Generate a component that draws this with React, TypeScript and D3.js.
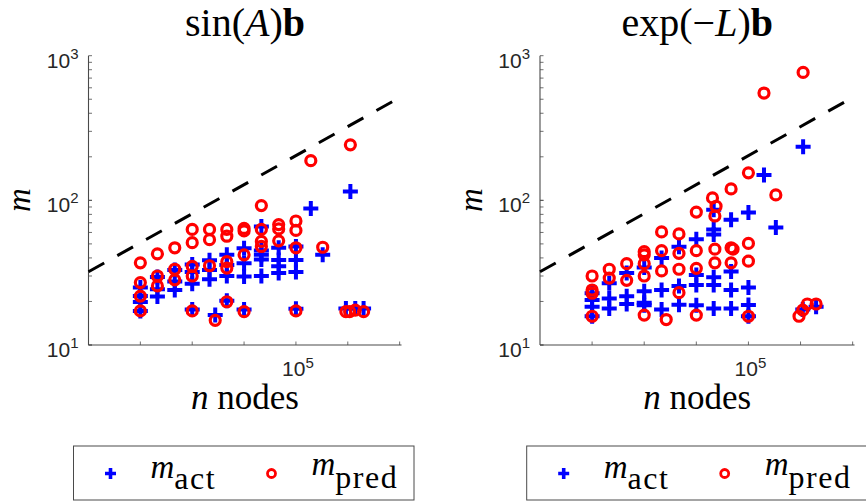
import React from 'react';
import * as d3 from 'd3';

// Axis limits and ticks
const NODE_MIN = 6250;
const NODE_MAX = 410000;
const M_MIN = 10;
const M_MAX = 1000;
const nodeTicks = [12500, 25000, 50000, 100000, 200000, 400000];
const labelledNodeTicks = [100000];
const mMajorTicks = [10, 100, 1000];

type Pt = [number, number];

// sin(A)b: measured m (act) and predicted m (pred) against n nodes
const sinActual: Pt[] = [
  [12500, 25], [12500, 21.8], [12500, 19.8], [12500, 17.2],
  [15700, 29.5], [15700, 24.3], [15700, 21.6],
  [19800, 33], [19800, 27.5], [19800, 24],
  [25000, 36], [25000, 32], [25000, 26.5], [25000, 17.6],
  [31500, 38.5], [31500, 33], [31500, 28.5],
  [34000, 16.1],
  [39700, 42], [39700, 35.8], [39700, 30], [39700, 20.2],
  [50000, 46.6], [50000, 36.8], [50000, 29.7], [50000, 17.6],
  [63000, 66], [63000, 45], [63000, 42], [63000, 39], [63000, 30],
  [79400, 47], [79400, 38.7], [79400, 35], [79400, 31.4],
  [100000, 48], [100000, 38.7], [100000, 32], [100000, 17.8],
  [122000, 88], [143000, 42], [207000, 115],
  [195000, 17.9], [221000, 17.9], [247000, 17.9],
];
const sinPredicted: Pt[] = [
  [12500, 37], [12500, 27], [12500, 21.8], [12500, 17.2],
  [15700, 42.7], [15700, 30], [15700, 25.6],
  [19800, 47], [19800, 33.4], [19800, 28.2],
  [25000, 63], [25000, 51], [25000, 35], [25000, 30], [25000, 17.2],
  [31500, 63], [31500, 53.5], [31500, 35.3],
  [34000, 14.8],
  [39700, 63], [39700, 56.5], [39700, 37.7], [39700, 34], [39700, 19.9],
  [50000, 64], [50000, 61.5], [50000, 42], [50000, 17],
  [63000, 92], [63000, 63], [63000, 52], [63000, 48],
  [79400, 68], [79400, 63.5], [79400, 52.5],
  [100000, 72], [100000, 62], [100000, 47], [100000, 17.2],
  [122000, 188], [143000, 47.4], [207000, 242],
  [195000, 17], [205000, 17], [221000, 17.4], [247000, 17],
];

// exp(-L)b: measured m (act) and predicted m (pred) against n nodes
const expActual: Pt[] = [
  [12500, 22.8], [12500, 20.5], [12500, 18.4], [12500, 15.8],
  [15700, 26.7], [15700, 21], [15700, 17.9],
  [19800, 31.4], [19800, 21.7], [19800, 19.2],
  [25000, 34.4], [25000, 23.5], [25000, 19.6], [25000, 18.8],
  [31500, 40], [31500, 24], [31500, 17.6],
  [39700, 47.7], [39700, 25.6], [39700, 19],
  [50000, 53.8], [50000, 30.5], [50000, 26], [50000, 18.8],
  [63000, 86], [63000, 63], [63000, 58], [63000, 29.4], [63000, 26], [63000, 17.9],
  [79400, 73.3], [79400, 32.2], [79400, 24], [79400, 17.9],
  [100000, 82.3], [100000, 25], [100000, 18.9], [100000, 15.8],
  [123000, 150], [144000, 65], [207000, 235],
  [206000, 17.6], [246000, 18.4],
];
const expPredicted: Pt[] = [
  [12500, 30], [12500, 24], [12500, 22.8], [12500, 15.8],
  [15700, 33.4], [15700, 29],
  [19800, 36.5], [19800, 28],
  [25000, 44.2], [25000, 42], [25000, 36.5], [25000, 30], [25000, 16.1],
  [31500, 60.5], [31500, 44.9], [31500, 32.5],
  [33500, 15],
  [39700, 58.6], [39700, 43], [39700, 33.4], [39700, 23],
  [50000, 83], [50000, 44.9], [50000, 33.9], [50000, 16.1],
  [62000, 104], [65000, 91], [64000, 78], [64000, 46], [64000, 37],
  [79400, 120], [79400, 47], [81500, 46], [79400, 37],
  [100000, 155], [100000, 50.4], [100000, 38], [100000, 15.8],
  [123000, 552], [144000, 109], [207000, 766],
  [196000, 15.8], [206000, 17.4], [219000, 19.2], [246000, 19.2],
];

// Reference bound m = c * n^(2/3)
const boundCoeff = 0.0946;
const boundPower = 2 / 3;

const W = 866;
const H = 502;
const PLOT_TOP = 55.7;
const PLOT_BOTTOM = 345;
const BLUE = '#0000ff';
const RED = '#ff0000';
const AXIS = '#4a4a4a';
const SERIF = '"Liberation Serif", "Times New Roman", serif';
const SANS = '"Liberation Sans", Arial, Helvetica, sans-serif';

const minorMTicks: number[] = [];
for (const dec of [10, 100]) for (let k = 1; k < 10; k++) minorMTicks.push(dec * k);

function PlusMark({ x, y, a, w }: { x: number; y: number; a: number; w: number }) {
  return (
    <path d={`M${x - a},${y}H${x + a}M${x},${y - a}V${y + a}`} stroke={BLUE} strokeWidth={w} fill="none" />
  );
}

function Panel({ left, right, title, actual, predicted, legendX }: {
  left: number; right: number; title: React.ReactNode;
  actual: Pt[]; predicted: Pt[]; legendX: number;
}) {
  const x = d3.scaleLog().domain([NODE_MIN, NODE_MAX]).range([left, right]);
  const y = d3.scaleLog().domain([M_MIN, M_MAX]).range([PLOT_BOTTOM, PLOT_TOP]);
  const cx = (left + right) / 2;
  const bound = d3.line<number>()
    .x((n) => x(n))
    .y((n) => y(boundCoeff * Math.pow(n, boundPower)));
  const tickLen = 3.5;

  return (
    <g>
      {/* title */}
      <text x={cx} y={36} textAnchor="middle" fontFamily={SERIF} fontSize={40} fill="#000">
        {title}
      </text>

      {/* axes lines */}
      <line x1={left} x2={right} y1={PLOT_BOTTOM} y2={PLOT_BOTTOM} stroke={AXIS} strokeWidth={1.1} />
      <line x1={left} x2={left} y1={PLOT_TOP} y2={PLOT_BOTTOM} stroke={AXIS} strokeWidth={1.1} />

      {/* y ticks */}
      {minorMTicks.map((m) => (
        <line key={`ym${m}`} x1={left} x2={left + tickLen} y1={y(m)} y2={y(m)} stroke={AXIS} strokeWidth={0.8} />
      ))}
      {mMajorTicks.map((m) => (
        <g key={`yl${m}`}>
          <line x1={left} x2={left + tickLen} y1={y(m)} y2={y(m)} stroke={AXIS} strokeWidth={0.8} />
          <text x={left - 10} y={y(m) + 12} textAnchor="end" fontFamily={SANS} fontSize={21} fill="#262626">
            <tspan>10</tspan>
            <tspan dy={-9} fontSize={15}>{Math.round(Math.log10(m))}</tspan>
          </text>
        </g>
      ))}

      {/* x ticks */}
      {nodeTicks.map((n) => (
        <line key={`xt${n}`} x1={x(n)} x2={x(n)} y1={PLOT_BOTTOM} y2={PLOT_BOTTOM - tickLen} stroke={AXIS} strokeWidth={0.8} />
      ))}
      {labelledNodeTicks.map((n) => (
        <text key={`xl${n}`} x={x(n) + 2} y={PLOT_BOTTOM + 31} textAnchor="middle" fontFamily={SANS} fontSize={21} fill="#262626">
          <tspan>10</tspan>
          <tspan dy={-8} fontSize={15}>{Math.round(Math.log10(n))}</tspan>
        </text>
      ))}

      {/* axis labels */}
      <text x={cx} y={409} textAnchor="middle" fontFamily={SERIF} fontSize={35} fill="#000">
        <tspan fontStyle="italic">n</tspan>
        <tspan> nodes</tspan>
      </text>
      <text transform={`translate(${left - 58.5},${200}) rotate(-90)`} textAnchor="middle" fontFamily={SERIF} fontSize={33} fontStyle="italic" fill="#000">
        m
      </text>

      {/* bound line */}
      <path d={bound([NODE_MIN, NODE_MAX]) ?? ''} stroke="#000" strokeWidth={3} strokeDasharray="18 15" fill="none" />

      {/* data */}
      {actual.map(([n, m], i) => (
        <PlusMark key={`a${i}`} x={x(n)} y={y(m)} a={7.5} w={4} />
      ))}
      {predicted.map(([n, m], i) => (
        <circle key={`p${i}`} cx={x(n)} cy={y(m)} r={5} stroke={RED} strokeWidth={3.2} fill="none" />
      ))}

      {/* legend */}
      <rect x={legendX} y={446} width={340.5} height={54} fill="#fff" stroke={AXIS} strokeWidth={1} />
      <PlusMark x={legendX + 37} y={473.5} a={5.5} w={3.6} />
      <text x={legendX + 77} y={478} fontFamily={SERIF} fontSize={33} fill="#000">
        <tspan fontStyle="italic">m</tspan>
        <tspan dy={11} fontSize={32} letterSpacing={1.5}>act</tspan>
      </text>
      <circle cx={legendX + 198} cy={473.5} r={4} stroke={RED} strokeWidth={2.8} fill="none" />
      <text x={legendX + 238} y={475} fontFamily={SERIF} fontSize={33} fill="#000">
        <tspan fontStyle="italic">m</tspan>
        <tspan dy={13} fontSize={32} letterSpacing={1.5}>pred</tspan>
      </text>
    </g>
  );
}

export default function App() {
  return (
    <svg
      width={W}
      height={H}
      viewBox={`0 0 ${W} ${H}`}
      style={{ position: 'absolute', left: 0, top: 0, background: '#fff' }}
    >
      <rect x={0} y={0} width={W} height={H} fill="#fff" />
      <Panel
        left={88.5}
        right={401.5}
        legendX={73.5}
        actual={sinActual}
        predicted={sinPredicted}
        title={
          <>
            <tspan>sin(</tspan>
            <tspan fontStyle="italic">A</tspan>
            <tspan>)</tspan>
            <tspan fontWeight="bold">b</tspan>
          </>
        }
      />
      <Panel
        left={540}
        right={854.5}
        legendX={526.7}
        actual={expActual}
        predicted={expPredicted}
        title={
          <>
            <tspan>exp(−</tspan>
            <tspan fontStyle="italic">L</tspan>
            <tspan>)</tspan>
            <tspan fontWeight="bold">b</tspan>
          </>
        }
      />
    </svg>
  );
}
